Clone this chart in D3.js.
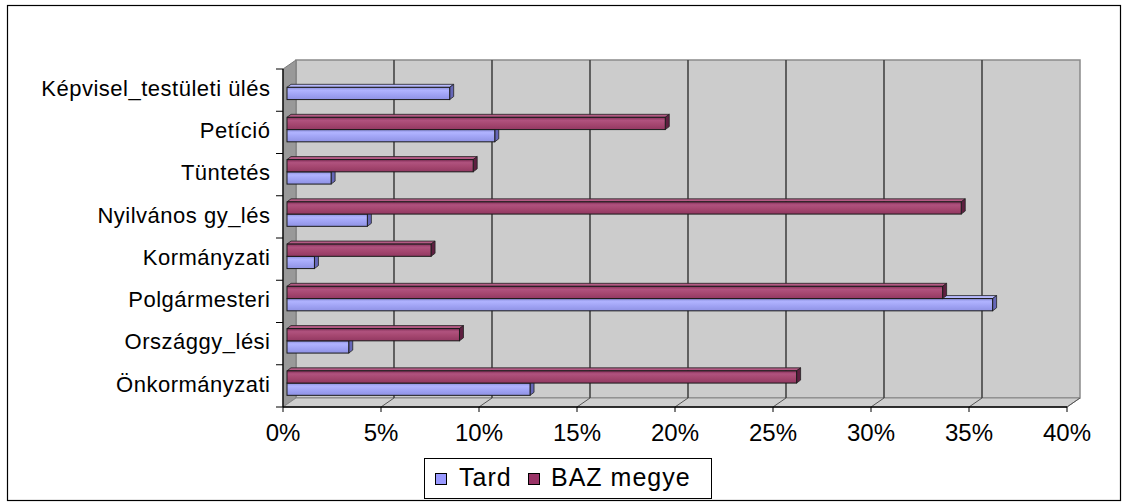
<!DOCTYPE html>
<html><head><meta charset="utf-8">
<script src="https://cdn.jsdelivr.net/npm/d3@7"></script>
<style>body{margin:0;background:#fff}svg{display:block}text{font-family:Arial,"Liberation Sans",sans-serif;fill:#000}</style>
</head><body><svg id="c" width="1123" height="502"></svg>
<script>
const categories = ["Képvisel_testületi ülés","Petíció","Tüntetés","Nyilvános gy_lés","Kormányzati","Polgármesteri","Országgy_lési","Önkormányzati"];
const seriesNames = ["BAZ megye","Tard"];
const tardValues = [8.3, 10.6, 2.25, 4.1, 1.4, 36.0, 3.15, 12.4];
const bazValues = [0, 19.3, 9.5, 34.4, 7.35, 33.45, 8.8, 26.0];
const xTicks = [0,5,10,15,20,25,30,35,40];
const legendNames = ["Tard","BAZ megye"];

const svg = d3.select("#c");
const DX = 13, DY = -9;           // depth offset of back wall
const BX = 4, BY = -2.8;          // bar front plane offset
const CX = 4, CY = -3;            // bar depth (cap)
const x = d3.scaleLinear().domain([0,40]).range([283,1067]);
const y = d3.scaleBand().domain(categories).range([69,407]).paddingInner(0.42).paddingOuter(0.21);
const ySub = d3.scaleBand().domain(seriesNames).range([0,y.bandwidth()]);
const colors = {"Tard":"#9999ff","BAZ megye":"#993366"};

const defs = svg.append("defs");
function grad(id, stops){
  const g = defs.append("linearGradient").attr("id",id).attr("x1",0).attr("x2",0).attr("y1",0).attr("y2",1);
  stops.forEach(s=>g.append("stop").attr("offset",s[0]).attr("stop-color",s[1]));
}
grad("gTard",[["0%","#8c8fdc"],["25%","#b0b3ff"],["60%","#a0a3f4"],["100%","#8f92e4"]]);
grad("gBAZ",[["0%","#84305a"],["25%","#b0527e"],["60%","#a4466f"],["100%","#923862"]]);

svg.append("rect").attr("x",7.5).attr("y",5.5).attr("width",1113).attr("height",495)
  .attr("fill","none").attr("stroke","#000").attr("stroke-width",1.2);

const x0 = x(0), x40 = x(40), yTop = 69, yBot = 407;
svg.append("rect").attr("x",x0+DX).attr("y",yTop+DY).attr("width",x40-x0).attr("height",yBot-yTop)
  .attr("fill","#cccccc").attr("stroke","#8a8a8a").attr("stroke-width",1.5);
svg.append("polygon").attr("points",[[x0,yTop],[x0+DX,yTop+DY],[x0+DX,yBot+DY],[x0,yBot]].join(" "))
  .attr("fill","#999999").attr("stroke","#7a7a7a").attr("stroke-width",1);
svg.append("polygon").attr("points",[[x0,yBot],[x0+DX,yBot+DY],[x40+DX,yBot+DY],[x40,yBot]].join(" "))
  .attr("fill","#cfcfcf").attr("stroke","#8a8a8a").attr("stroke-width",1);

const gl = svg.append("g");
xTicks.filter(t=>t>0 && t<40).forEach(t=>{
  gl.append("line").attr("x1",x(t)+DX).attr("x2",x(t)+DX).attr("y1",yTop+DY).attr("y2",yBot+DY)
    .attr("stroke","#444").attr("stroke-width",1.6);
});
xTicks.filter(t=>t>0).forEach(t=>{
  gl.append("line").attr("x1",x(t)+DX).attr("x2",x(t)).attr("y1",yBot+DY).attr("y2",yBot)
    .attr("stroke","#555").attr("stroke-width",1);
});

const bars = [];
categories.forEach((c,i)=>{
  bars.push({c, s:"BAZ megye", v:bazValues[i]});
  bars.push({c, s:"Tard", v:tardValues[i]});
});
bars.sort((a,b)=>(y(b.c)+ySub(b.s))-(y(a.c)+ySub(a.s)));
const bg = svg.append("g");
bars.filter(d=>d.v>0).forEach(d=>{
  const xs = x(0)+BX, xe = x(d.v)+BX;
  const yt = y(d.c)+ySub(d.s)+BY, yb = yt+ySub.bandwidth();
  const isT = d.s==="Tard";
  bg.append("polygon").attr("points",[[xs,yt],[xs+CX,yt+CY],[xe+CX,yt+CY],[xe,yt]].join(" "))
    .attr("fill",isT?"#b8baff":"#b45a84").attr("stroke","#222").attr("stroke-width",0.8);
  bg.append("polygon").attr("points",[[xe,yt],[xe+CX,yt+CY],[xe+CX,yb+CY],[xe,yb]].join(" "))
    .attr("fill",isT?"#6667b8":"#5e1f40").attr("stroke","#222").attr("stroke-width",0.8);
  bg.append("rect").attr("x",xs).attr("y",yt).attr("width",xe-xs).attr("height",yb-yt)
    .attr("fill",isT?"url(#gTard)":"url(#gBAZ)").attr("stroke","#1a1a1a").attr("stroke-width",1);
});

const ax = svg.append("g");
ax.append("line").attr("x1",x0).attr("x2",x0).attr("y1",yTop).attr("y2",yBot).attr("stroke","#000").attr("stroke-width",1.3);
ax.append("line").attr("x1",x0).attr("x2",x40).attr("y1",yBot).attr("y2",yBot).attr("stroke","#000").attr("stroke-width",1.3);
const step = y.step();
d3.range(categories.length+1).forEach(k=>{
  const yy = yTop + k*step;
  ax.append("line").attr("x1",x0-7).attr("x2",x0).attr("y1",yy).attr("y2",yy).attr("stroke","#000").attr("stroke-width",1);
});
xTicks.forEach(t=>{
  ax.append("line").attr("x1",x(t)).attr("x2",x(t)).attr("y1",yBot).attr("y2",yBot+5).attr("stroke","#000").attr("stroke-width",1);
});
categories.forEach(c=>{
  const cy = y(c)+y.bandwidth()/2 - 2;
  ax.append("text").attr("x",270.5).attr("y",cy).attr("dy","0.35em").attr("text-anchor","end")
    .style("font-size","22px").style("letter-spacing","0.5px").text(c);
});
xTicks.forEach(t=>{
  ax.append("text").attr("x",x(t)).attr("y",441).attr("text-anchor","middle")
    .style("font-size","24px").text(t+"%");
});

const lg = svg.append("g");
lg.append("rect").attr("x",424.5).attr("y",458.5).attr("width",287).attr("height",40)
  .attr("fill","#fff").attr("stroke","#000").attr("stroke-width",1);
const legPos = [{sx:435, tx:459},{sx:528, tx:551}];
legendNames.forEach((n,i)=>{
  lg.append("rect").attr("x",legPos[i].sx+0.5).attr("y",473.5).attr("width",11).attr("height",11)
    .attr("fill",colors[n]).attr("stroke","#000").attr("stroke-width",1);
  lg.append("text").attr("x",legPos[i].tx).attr("y",486).style("font-size","25px").style("letter-spacing","1px").text(n);
});
</script></body></html>
